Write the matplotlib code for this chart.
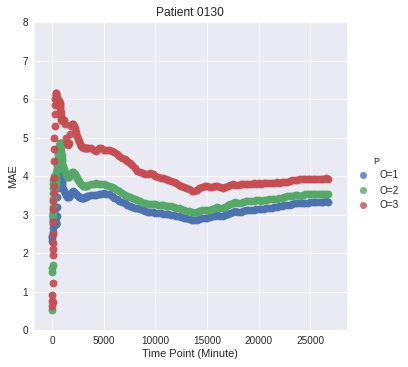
import matplotlib
matplotlib.use("Agg")
import matplotlib.pyplot as plt
from matplotlib.lines import Line2D
import seaborn as sns

# valores (MAE acumulado, paciente 0130)
T_EARLY = [0, 10, 20, 30, 40, 50, 60, 70, 80, 90, 100, 110, 120, 130, 140, 150]
T_RISE = [175, 200, 225, 250, 275, 300, 325, 350, 375, 400, 425, 450, 475, 500, 525, 550, 575,
          600, 625, 650, 675, 700, 725, 750, 775, 800, 825, 850, 875, 900, 925, 950, 975]
T_MID = [1000, 1100, 1200, 1300, 1400, 1500, 1600, 1700, 1800, 1900, 2000, 2100, 2200,
         2300, 2400, 2500, 2600, 2700, 2800, 2900, 3000, 3100, 3200, 3300, 3400]
T_MAIN = [3500, 3750, 4000, 4250, 4500, 4750,
          5000, 5250, 5500, 5750, 6000, 6250, 6500, 6750,
          7000, 7250, 7500, 7750, 8000, 8250, 8500, 8750,
          9000, 9250, 9500, 9750, 10000, 10250, 10500, 10750,
          11000, 11250, 11500, 11750, 12000, 12250, 12500, 12750,
          13000, 13250, 13500, 13750, 14000, 14250, 14500, 14750,
          15000, 15250, 15500, 15750, 16000, 16250, 16500, 16750,
          17000, 17250, 17500, 17750, 18000, 18250, 18500, 18750,
          19000, 19250, 19500, 19750, 20000, 20250, 20500, 20750,
          21000, 21250, 21500, 21750, 22000, 22250, 22500, 22750,
          23000, 23250, 23500, 23750, 24000, 24250, 24500, 24750,
          25000, 25250, 25500, 25750, 26000, 26250, 26500, 26750]

# O=1
O1_EARLY = [2.3, 2.4, 2.45, 2.55, 2.65, 2.75, 2.8, 2.85, 2.9, 2.95, 3.0, 3.05, 3.1, 3.15, 3.2, 3.2]
O1_RISE = [3.1, 3.0, 2.95, 2.9, 2.85, 2.8, 2.78, 2.75, 2.75, 2.8, 2.95, 3.2, 3.45, 3.7, 3.85, 4.0, 4.1,
           4.2, 4.28, 4.35, 4.38, 4.4, 4.38, 4.35, 4.28, 4.2, 4.1, 4.0, 3.92, 3.85, 3.8, 3.75, 3.7]
O1_MID = [3.65, 3.6, 3.55, 3.5, 3.46, 3.45, 3.46, 3.5, 3.55, 3.58, 3.6, 3.58, 3.55,
          3.52, 3.5, 3.48, 3.46, 3.45, 3.44, 3.43, 3.43, 3.44, 3.45, 3.46, 3.47]
O1_MAIN = [3.48, 3.50, 3.51, 3.50, 3.52, 3.54,
           3.55, 3.54, 3.52, 3.48, 3.44, 3.40, 3.36, 3.32,
           3.29, 3.26, 3.23, 3.20, 3.18, 3.16, 3.14, 3.11,
           3.08, 3.07, 3.07, 3.06, 3.05, 3.04, 3.03, 3.02,
           3.01, 3.01, 3.00, 2.99, 2.97, 2.95, 2.93, 2.91,
           2.90, 2.88, 2.86, 2.85, 2.86, 2.89, 2.91, 2.92,
           2.92, 2.93, 2.95, 2.97, 2.98, 2.97, 2.97, 2.99,
           3.02, 3.05, 3.07, 3.08, 3.07, 3.07, 3.09, 3.11,
           3.12, 3.13, 3.13, 3.14, 3.14, 3.14, 3.15, 3.16,
           3.17, 3.18, 3.19, 3.19, 3.21, 3.22, 3.24, 3.26,
           3.26, 3.27, 3.29, 3.30, 3.29, 3.30, 3.31, 3.31,
           3.32, 3.32, 3.33, 3.33, 3.32, 3.33, 3.34, 3.33]

# O=2
O2_EARLY = [0.52, 1.5, 1.6, 1.7, 2.95, 3.05, 3.2, 3.4, 3.55, 3.7, 3.8, 3.9, 4.0, 3.95, 3.9, 3.85]
O2_RISE = [3.8, 3.8, 3.75, 3.7, 3.7, 3.75, 3.8, 3.9, 4.0, 4.1, 4.15, 4.2, 4.25, 4.3, 4.4, 4.45, 4.55,
           4.6, 4.65, 4.72, 4.77, 4.8, 4.83, 4.85, 4.86, 4.85, 4.8, 4.75, 4.65, 4.55, 4.45, 4.4, 4.32]
O2_MID = [4.25, 4.18, 4.1, 4.03, 3.98, 3.97, 3.98, 4.02, 4.06, 4.1, 4.1, 4.08, 4.05,
          4.0, 3.95, 3.9, 3.86, 3.82, 3.79, 3.77, 3.75, 3.74, 3.73, 3.73, 3.74]
O2_MAIN = [3.76, 3.78, 3.80, 3.81, 3.80, 3.78,
           3.78, 3.77, 3.75, 3.72, 3.68, 3.64, 3.60, 3.55,
           3.51, 3.48, 3.46, 3.43, 3.40, 3.37, 3.34, 3.31,
           3.29, 3.27, 3.27, 3.28, 3.27, 3.26, 3.25, 3.24,
           3.23, 3.22, 3.21, 3.20, 3.18, 3.16, 3.14, 3.12,
           3.10, 3.08, 3.06, 3.04, 3.06, 3.09, 3.11, 3.12,
           3.12, 3.13, 3.15, 3.17, 3.19, 3.18, 3.17, 3.20,
           3.24, 3.28, 3.30, 3.32, 3.31, 3.30, 3.32, 3.34,
           3.35, 3.36, 3.36, 3.37, 3.37, 3.36, 3.37, 3.38,
           3.39, 3.40, 3.41, 3.41, 3.42, 3.43, 3.45, 3.47,
           3.47, 3.48, 3.50, 3.50, 3.49, 3.51, 3.52, 3.52,
           3.53, 3.52, 3.53, 3.53, 3.52, 3.53, 3.54, 3.53]

# O=3
O3_EARLY = [0.62, 0.75, 0.9, 0.72, 1.22, 1.95, 2.1, 2.25, 2.5, 2.8, 3.15, 3.35, 3.55, 3.75, 3.95, 4.4]
O3_RISE = [4.7, 5.0, 5.3, 5.6, 5.85, 6.0, 6.1, 6.15, 6.15, 6.1, 6.05, 6.0, 5.95, 5.95, 5.9, 5.9, 5.85,
           5.9, 5.95, 5.95, 5.9, 5.9, 5.85, 5.8, 5.75, 5.65, 5.55, 5.5, 5.45, 5.45, 5.45, 5.45, 5.45]
O3_MID = [5.45, 5.45, 5.35, 5.0, 4.85, 4.8, 4.85, 5.1, 5.3, 5.35, 5.35, 5.3, 5.25,
          5.15, 5.05, 4.97, 4.9, 4.82, 4.78, 4.76, 4.75, 4.74, 4.73, 4.73, 4.72]
O3_MAIN = [4.72, 4.72, 4.68, 4.66, 4.73, 4.74,
           4.68, 4.67, 4.68, 4.65, 4.62, 4.57, 4.51, 4.47,
           4.43, 4.40, 4.35, 4.28, 4.20, 4.14, 4.10, 4.07,
           4.05, 4.05, 4.07, 4.06, 4.01, 3.98, 3.96, 3.94,
           3.92, 3.90, 3.88, 3.85, 3.81, 3.77, 3.74, 3.71,
           3.68, 3.65, 3.62, 3.61, 3.63, 3.68, 3.72, 3.74,
           3.73, 3.71, 3.71, 3.75, 3.75, 3.72, 3.70, 3.71,
           3.75, 3.77, 3.78, 3.76, 3.77, 3.79, 3.80, 3.80,
           3.79, 3.80, 3.81, 3.80, 3.81, 3.80, 3.81, 3.82,
           3.81, 3.82, 3.83, 3.84, 3.83, 3.85, 3.84, 3.85,
           3.87, 3.89, 3.90, 3.90, 3.91, 3.92, 3.91, 3.92,
           3.93, 3.92, 3.92, 3.93, 3.92, 3.93, 3.94, 3.92]

LABELS = ["O=1", "O=2", "O=3"]
COLORS = ["#4C72B0", "#55A868", "#C44E52"]

sns.set_style("darkgrid")
plt.rcParams.update({
    "font.family": ["Liberation Sans", "DejaVu Sans"],
    "xtick.labelsize": 10, "ytick.labelsize": 10,
    "axes.labelsize": 11, "axes.titlesize": 12,
    "xtick.color": ".15", "ytick.color": ".15", "axes.labelcolor": ".15",
})

fig = plt.figure(figsize=(408 / 72, 367 / 72), dpi=72)
ax = fig.add_axes([0.0833, 0.1008, 0.7664, 0.8392])

t_all = T_EARLY + T_RISE + T_MID + T_MAIN
series = [O1_EARLY + O1_RISE + O1_MID + O1_MAIN,
          O2_EARLY + O2_RISE + O2_MID + O2_MAIN,
          O3_EARLY + O3_RISE + O3_MID + O3_MAIN]
for vals, lab, col in zip(series, LABELS, COLORS):
    ax.scatter(t_all, vals, s=62, color=col, alpha=0.95, linewidths=0, label=lab)

ax.set_xlim(-1773, 28527)
ax.set_ylim(0, 8)
ax.set_xticks([0, 5000, 10000, 15000, 20000, 25000])
ax.tick_params(axis="both", length=0, pad=6)
ax.set_xlabel("Time Point (Minute)", labelpad=3)
ax.set_ylabel("MAE", labelpad=4)
ax.set_title("Patient 0130", pad=6)

handles = [Line2D([], [], marker="o", linestyle="", color=c, alpha=0.8, markersize=7,
                  markeredgewidth=0) for c in COLORS]
fig.legend(handles=handles, labels=LABELS, title="P", loc="center left",
           bbox_to_anchor=(0.843, 0.5), frameon=False, fontsize=10,
           title_fontsize=9, handletextpad=0.7)

plt.savefig("out.png", dpi=72, facecolor="white")
plt.close()
